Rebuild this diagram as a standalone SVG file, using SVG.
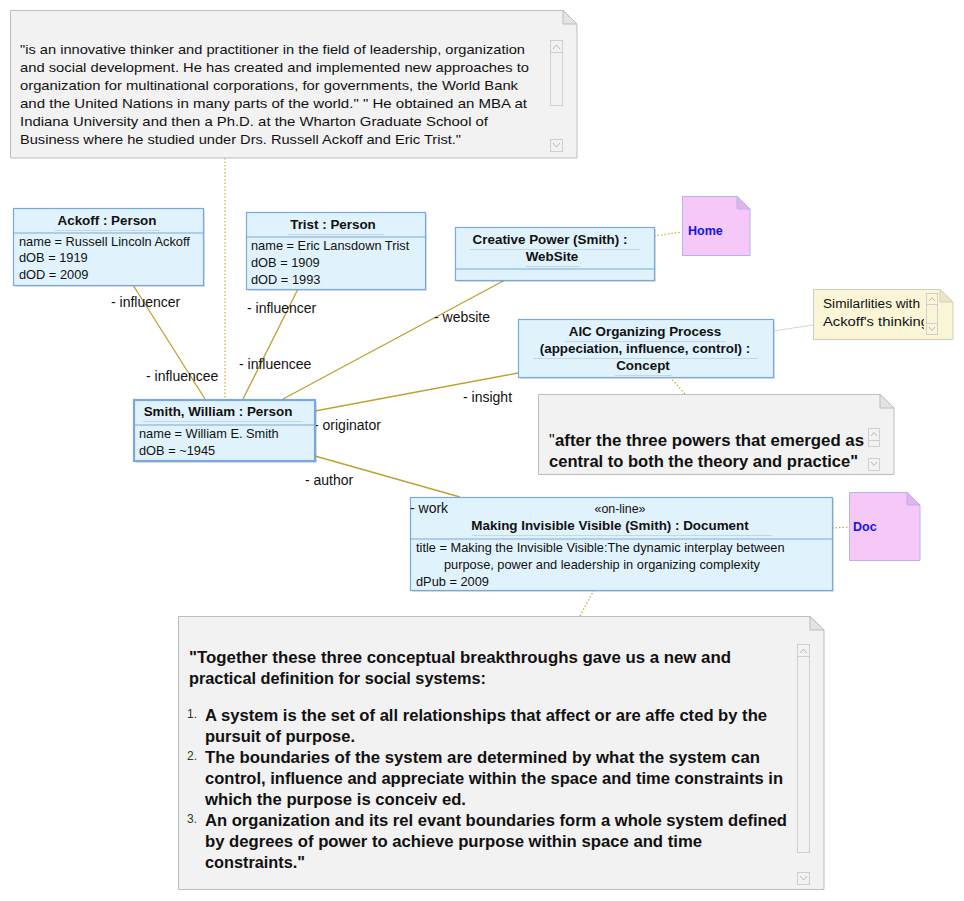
<svg xmlns="http://www.w3.org/2000/svg" width="964" height="901" viewBox="0 0 964 901">
<defs>
<style>
text{font-family:"Liberation Sans",Arial,sans-serif;fill:#111}
.n{fill:#e0f3fc;stroke:#79a9dc;stroke-width:1.2}
.ns{fill:#e0f3fc;stroke:#79a9dc;stroke-width:2.2}
.sh{fill:#000;opacity:0.13}
.dv{stroke:#79a9dc;stroke-width:1.2}
.ul{stroke:#c8d6e0;stroke-width:1}
.tt{font-size:13.4px;font-weight:bold;text-anchor:middle}
.at{font-size:12.8px}
.lb{font-size:14px}
.note{fill:#f2f2f2;stroke:#bdbdbd;stroke-width:1}
.fold{fill:#e4e4e4;stroke:#bdbdbd;stroke-width:1}
.pink{fill:#f5c8f8;stroke:#b4b4ee;stroke-width:1}
.pfold{fill:#e6b2ea;stroke:#b4b4ee;stroke-width:1}
.yel{fill:#faf5d7;stroke:#cfcfbf;stroke-width:1}
.yfold{fill:#ece6c6;stroke:#cfcfbf;stroke-width:1}
.c{stroke:#bea12e;stroke-width:1.3;fill:none}
.d{stroke:#c7a93a;stroke-width:1.2;fill:none;stroke-dasharray:1.5 2}
.sb{fill:none;stroke:#cfcfcf;stroke-width:1}
.ar{fill:none;stroke:#b8b8b8;stroke-width:1}
.big{font-size:16px;font-weight:bold}
.tn{font-size:13px}
.num{font-size:12px;fill:#333}
</style>
</defs>

<g id="connectors">
<line class="d" x1="225" y1="158" x2="225" y2="399"/>
<line class="c" x1="133" y1="285" x2="205" y2="399"/>
<line class="c" x1="298" y1="289" x2="243" y2="399"/>
<line class="c" x1="505" y1="280" x2="283" y2="399"/>
<line class="c" x1="518" y1="373" x2="315" y2="411"/>
<line class="c" x1="315" y1="456" x2="460" y2="497"/>
<line class="d" x1="654" y1="236" x2="682" y2="232"/>
<line x1="773" y1="331" x2="813" y2="325" stroke="#d6d6d6" stroke-width="1"/>
<line class="d" x1="670" y1="377" x2="685" y2="394"/>
<line class="d" x1="832" y1="528" x2="849" y2="527"/>
<line class="d" x1="594" y1="590" x2="580" y2="616"/>
<text class="lb" x="111" y="307">- influencer</text>
<text class="lb" x="146" y="381">- influencee</text>
<text class="lb" x="247" y="313">- influencer</text>
<text class="lb" x="239" y="369">- influencee</text>
<text class="lb" x="434" y="322">- website</text>
<text class="lb" x="463" y="402">- insight</text>
<text class="lb" x="314" y="430">- originator</text>
<text class="lb" x="305" y="485">- author</text>
</g>

<g id="note-bio">
<path class="note" d="M10.5,10.5 H563 L577,24 V158 H10.5 Z"/>
<path class="fold" d="M563,10.5 V24 H577 Z"/>
<rect class="sb" x="550.5" y="40.5" width="12" height="65"/>
<line class="sb" x1="550.5" y1="52.5" x2="562.5" y2="52.5"/>
<path class="ar" d="M553,49 L556.5,45 L560,49"/>
<rect class="sb" x="550.5" y="139.5" width="12" height="12"/>
<path class="ar" d="M553,143 L556.5,147 L560,143"/>
<text class="tn" x="20" y="54" textLength="505" lengthAdjust="spacingAndGlyphs">"is an innovative thinker and practitioner in the field of leadership, organization</text>
<text class="tn" x="20" y="72" textLength="509" lengthAdjust="spacingAndGlyphs">and social development. He has created and implemented new approaches to</text>
<text class="tn" x="20" y="90" textLength="498" lengthAdjust="spacingAndGlyphs">organization for multinational corporations, for governments, the World Bank</text>
<text class="tn" x="20" y="108" textLength="507" lengthAdjust="spacingAndGlyphs">and the United Nations in many parts of the world." " He obtained an MBA at</text>
<text class="tn" x="20" y="126" textLength="468" lengthAdjust="spacingAndGlyphs">Indiana University and then a Ph.D. at the Wharton Graduate School of</text>
<text class="tn" x="20" y="144" textLength="441" lengthAdjust="spacingAndGlyphs">Business where he studied under Drs. Russell Ackoff and Eric Trist."</text>
</g>

<g id="ackoff">
<rect class="sh" x="15" y="210" width="190" height="77"/>
<rect class="n" x="13.5" y="208.5" width="190" height="77"/>
<text class="tt" x="107" y="225">Ackoff : Person</text>
<line class="ul" x1="55" y1="230.5" x2="160" y2="230.5"/>
<line class="dv" x1="13.5" y1="233" x2="203.5" y2="233"/>
<text class="at" x="19" y="246">name = Russell Lincoln Ackoff</text>
<text class="at" x="19" y="262">dOB = 1919</text>
<text class="at" x="19" y="279">dOD = 2009</text>
</g>

<g id="trist">
<rect class="sh" x="248" y="214" width="179" height="77"/>
<rect class="n" x="246.5" y="212.5" width="179" height="77"/>
<text class="tt" x="333" y="229">Trist : Person</text>
<line class="ul" x1="288" y1="234.5" x2="384" y2="234.5"/>
<line class="dv" x1="246.5" y1="237" x2="425.5" y2="237"/>
<text class="at" x="251" y="250">name = Eric Lansdown Trist</text>
<text class="at" x="251" y="267">dOB = 1909</text>
<text class="at" x="251" y="284">dOD = 1993</text>
</g>

<g id="smith">
<rect class="sh" x="136" y="402" width="181" height="61"/>
<rect class="ns" x="134" y="400" width="181" height="61"/>
<text class="tt" x="218" y="416">Smith, William : Person</text>
<line class="ul" x1="143" y1="421.5" x2="303" y2="421.5"/>
<line class="dv" x1="134" y1="425" x2="315" y2="425" stroke-width="2"/>
<text class="at" x="139" y="438">name = William E. Smith</text>
<text class="at" x="139" y="455">dOB = ~1945</text>
</g>

<g id="website">
<rect class="sh" x="457" y="229" width="199" height="53"/>
<rect class="n" x="455.5" y="227.5" width="199" height="53"/>
<text class="tt" x="550" y="244">Creative Power (Smith) :</text>
<line class="ul" x1="470" y1="249.5" x2="640" y2="249.5"/>
<text class="tt" x="552" y="261">WebSite</text>
<line class="ul" x1="526" y1="266.5" x2="580" y2="266.5"/>
<line class="dv" x1="455.5" y1="269" x2="654.5" y2="269"/>
</g>

<g id="home">
<path class="pink" d="M682.5,196.5 H737 L750,209 V255.5 H682.5 Z"/>
<path class="pfold" d="M737,196.5 V209 H750 Z"/>
<text x="688" y="235" font-size="12.5" font-weight="bold" style="fill:#1414e6">Home</text>
</g>

<g id="aic">
<rect class="sh" x="520" y="321" width="255" height="58"/>
<rect class="n" x="518.5" y="319.5" width="255" height="58"/>
<text class="tt" x="645" y="336">AIC Organizing Process</text>
<line class="ul" x1="565" y1="341.5" x2="726" y2="341.5"/>
<text class="tt" x="645" y="353">(appeciation, influence, control) :</text>
<line class="ul" x1="533" y1="358.5" x2="758" y2="358.5"/>
<text class="tt" x="643" y="370">Concept</text>
<line class="ul" x1="615" y1="375.5" x2="672" y2="375.5"/>
</g>

<g id="similarities">
<path class="yel" d="M813.5,289.5 H940 L953,302 V339.5 H813.5 Z"/>
<path class="yfold" d="M940,289.5 V302 H953 Z"/>
<text x="823" y="308" font-size="13.7" textLength="97" lengthAdjust="spacingAndGlyphs">Similarlities with</text>
<svg x="813" y="289" width="111" height="50" overflow="hidden"><text x="10" y="37" font-size="13.7" textLength="106" lengthAdjust="spacingAndGlyphs">Ackoff's thinking</text></svg>
<rect class="sb" x="926.5" y="293.5" width="11" height="41"/>
<line class="sb" x1="926.5" y1="304.5" x2="937.5" y2="304.5"/>
<line class="sb" x1="926.5" y1="323.5" x2="937.5" y2="323.5"/>
<path class="ar" d="M929,301 L932,297.5 L935,301"/>
<path class="ar" d="M929,327 L932,330.5 L935,327"/>
</g>

<g id="quote-note">
<path class="note" d="M538.5,394.5 H880 L894,408 V474.5 H538.5 Z"/>
<path class="fold" d="M880,394.5 V408 H894 Z"/>
<text x="549" y="446" font-size="16">"</text>
<text class="big" x="555" y="446" textLength="309" lengthAdjust="spacingAndGlyphs">after the three powers that emerged as</text>
<text class="big" x="549" y="467" textLength="309" lengthAdjust="spacingAndGlyphs">central to both the theory and practice"</text>
<rect class="sb" x="868.5" y="428.5" width="11" height="12"/>
<rect class="sb" x="868.5" y="440.5" width="11" height="6"/>
<path class="ar" d="M871,436 L874,432.5 L877,436"/>
<rect class="sb" x="868.5" y="458.5" width="11" height="12"/>
<path class="ar" d="M871,462 L874,465.5 L877,462"/>
</g>

<g id="document">
<rect class="sh" x="412" y="499" width="422" height="93"/>
<rect class="n" x="410.5" y="497.5" width="422" height="93"/>
<text x="620" y="513" font-size="12.4" text-anchor="middle">«on-line»</text>
<text class="tt" x="610" y="530">Making Invisible Visible (Smith) : Document</text>
<line class="ul" x1="472" y1="535.5" x2="772" y2="535.5"/>
<line class="dv" x1="410.5" y1="539" x2="832.5" y2="539"/>
<text class="at" x="416" y="552">title = Making the Invisible Visible:The dynamic interplay between</text>
<text class="at" x="444" y="569">purpose, power and leadership in organizing complexity</text>
<text class="at" x="416" y="586">dPub = 2009</text>
<text class="lb" x="410" y="513">- work</text>
</g>

<g id="doc">
<path class="pink" d="M849.5,492.5 H907 L920,505 V560.5 H849.5 Z"/>
<path class="pfold" d="M907,492.5 V505 H920 Z"/>
<text x="853" y="531" font-size="12.5" font-weight="bold" style="fill:#1414e6">Doc</text>
</g>

<g id="definition-note">
<path class="note" d="M178.5,616.5 H810 L824,630 V889.5 H178.5 Z"/>
<path class="fold" d="M810,616.5 V630 H824 Z"/>
<rect class="sb" x="797.5" y="644.5" width="12" height="208"/>
<line class="sb" x1="797.5" y1="656.5" x2="809.5" y2="656.5"/>
<path class="ar" d="M800,653 L803.5,649 L807,653"/>
<rect class="sb" x="797.5" y="872.5" width="12" height="12"/>
<path class="ar" d="M800,876 L803.5,880 L807,876"/>
<text class="big" x="189" y="663" textLength="542" lengthAdjust="spacingAndGlyphs">"Together these three conceptual breakthroughs gave us a new and</text>
<text class="big" x="189" y="684" textLength="297" lengthAdjust="spacingAndGlyphs">practical definition for social systems:</text>
<text class="num" x="187" y="718">1.</text>
<text class="big" x="205" y="721" textLength="562" lengthAdjust="spacingAndGlyphs">A system is the set of all relationships  that affect or are affe cted by the</text>
<text class="big" x="205" y="742" textLength="150" lengthAdjust="spacingAndGlyphs">pursuit of purpose.</text>
<text class="num" x="187" y="760">2.</text>
<text class="big" x="205" y="763" textLength="555" lengthAdjust="spacingAndGlyphs">The boundaries of the system are determined by what the system can</text>
<text class="big" x="205" y="784" textLength="578" lengthAdjust="spacingAndGlyphs">control, influence and appreciate within the space and time constraints in</text>
<text class="big" x="205" y="805" textLength="261" lengthAdjust="spacingAndGlyphs">which the purpose is conceiv ed.</text>
<text class="num" x="187" y="823">3.</text>
<text class="big" x="205" y="826" textLength="582" lengthAdjust="spacingAndGlyphs">An organization and its rel evant boundaries form a whole system defined</text>
<text class="big" x="205" y="847" textLength="497" lengthAdjust="spacingAndGlyphs">by degrees of power to achieve purpose within space and time</text>
<text class="big" x="205" y="868" textLength="100" lengthAdjust="spacingAndGlyphs">constraints."</text>
</g>
</svg>
